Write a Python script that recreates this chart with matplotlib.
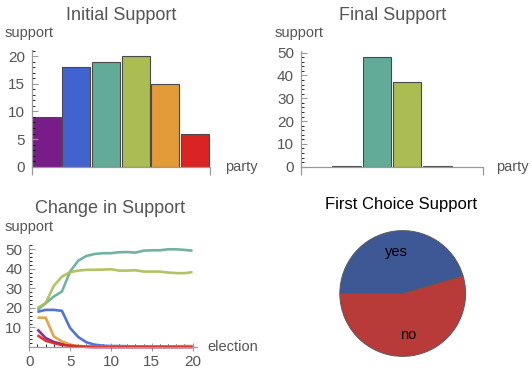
import numpy as np
import matplotlib
matplotlib.use('Agg')
import matplotlib.pyplot as plt
from matplotlib.ticker import MultipleLocator

# data
parties = ['P1', 'P2', 'P3', 'P4', 'P5', 'P6']
colors = ['#781c87', '#4163cf', '#61ab98', '#abbd52', '#e39a38', '#da2424']
initial_support = [9, 18, 19, 20, 15, 6]
final_support = [0, 0.5, 48, 37.3, 0.5, 0]

elections = list(range(1, 21))
purple_line = [9, 4.6, 2.6, 1.5, 0.7, 0.3, 0.1, 0, 0, 0, 0, 0, 0, 0, 0, 0, 0, 0, 0, 0]
blue_line = [18, 19, 19, 18.5, 9.7, 5.1, 2.4, 1.2, 0.7, 0.5, 0.5, 0.4, 0.3, 0.3, 0.2, 0.2, 0.2, 0.2, 0.2, 0.2]
teal_line = [19, 22.4, 25.8, 28.4, 38.6, 44.2, 46.6, 47.6, 48, 48, 48.5, 48.6, 48.3, 49.3, 49.5, 49.5, 50, 50, 49.7, 49.3]
green_line = [20, 22.4, 31.3, 36, 38.3, 39.1, 39.5, 39.5, 39.6, 39.8, 39.1, 39.1, 39.3, 38.6, 38.6, 38.6, 38.1, 37.8, 37.8, 38.3]
orange_line = [15, 15, 5.4, 2.9, 1.2, 0.5, 0.3, 0.3, 0.2, 0.2, 0.2, 0.2, 0.2, 0.2, 0.3, 0.3, 0.3, 0.4, 0.5, 0.5]
red_line = [6, 3.2, 2, 1, 0.7, 0.3, 0.1, 0, 0, 0, 0, 0, 0, 0, 0, 0, 0, 0, 0, 0]
lines = [purple_line, blue_line, teal_line, green_line, orange_line, red_line]

pie_labels = ['yes', 'no']
pie_values = [5, 6]
pie_colors = ['#3d5894', '#b83b3a']

plt.rcParams['font.family'] = ['Liberation Sans', 'DejaVu Sans']
plt.rcParams['font.size'] = 10

W, H = 532, 372
axis_gray = '#9a9a9a'
text_gray = '#555555'

fig = plt.figure(figsize=(W / 100, H / 100), dpi=100)


def rect(x0, y0, x1, y1):
    # pixel box (top-left origin) -> figure fraction rect
    return [x0 / W, 1 - y1 / H, (x1 - x0) / W, (y1 - y0) / H]


def ftext(x, y, s, **kw):
    fig.text(x / W, 1 - y / H, s, **kw)


def style_axes(ax):
    for side in ['top', 'right']:
        ax.spines[side].set_visible(False)
    for side in ['left', 'bottom']:
        ax.spines[side].set_color(axis_gray)
        ax.spines[side].set_linewidth(0.9)
    ax.tick_params(colors=axis_gray, labelcolor=text_gray, labelsize=11)
    ax.tick_params(axis='y', which='major', direction='in', length=4, width=0.8, pad=5)
    ax.tick_params(axis='y', which='minor', direction='in', length=2, width=0.6)
    ax.patch.set_alpha(0)


def bar_panel(rect_px, values, ymax, major, minor, title, title_x, support_x, party_x):
    ax = fig.add_axes(rect(*rect_px))
    x = np.arange(len(values))
    lws = [0.8 if v > 0 else 0 for v in values]
    ax.bar(x, values, width=0.94, color=colors, edgecolor='#4a4a4a', linewidth=lws)
    ax.set_xlim(-0.5, len(values) - 0.5)
    ax.set_ylim(0, ymax)
    style_axes(ax)
    ax.set_xticks([-0.5, len(values) - 0.5])
    ax.set_xticklabels([])
    ax.tick_params(axis='x', direction='out', length=6, width=0.9)
    ax.yaxis.set_major_locator(MultipleLocator(major))
    ax.yaxis.set_minor_locator(MultipleLocator(minor))
    ftext(title_x, 19.5, title, ha='center', va='baseline', fontsize=13, color=text_gray)
    ftext(support_x, 36.5, 'support', ha='left', va='baseline', fontsize=10.5, color=text_gray)
    ftext(party_x, 167, 'party', ha='left', va='center', fontsize=10.5, color=text_gray)
    return ax


bar_panel((31.7, 50, 210, 166.7), initial_support, 21.1, 5, 1,
          'Initial Support', 121, 5, 225)
bar_panel((301, 51.5, 483, 166.7), final_support, 50.5, 10, 2,
          'Final Support', 392.5, 275, 496)

# change in support
ax = fig.add_axes(rect(29.3, 245, 197, 347))
for vals, c in zip(lines, colors):
    ax.plot(elections, vals, color=c, lw=1.9, alpha=0.9, clip_on=False,
            solid_capstyle='butt')
ax.set_xlim(0, 20.55)
ax.set_ylim(0, 52.2)
style_axes(ax)
ax.xaxis.set_major_locator(MultipleLocator(5))
ax.xaxis.set_minor_locator(MultipleLocator(1))
ax.yaxis.set_major_locator(MultipleLocator(10))
ax.yaxis.set_minor_locator(MultipleLocator(2))
ax.set_yticks([10, 20, 30, 40, 50])
ax.tick_params(axis='x', which='major', direction='inout', length=6, width=0.8, pad=3)
ax.tick_params(axis='x', which='minor', direction='in', length=2, width=0.6)
ftext(110.5, 212.5, 'Change in Support', ha='center', va='baseline', fontsize=13, color=text_gray)
ftext(5, 231, 'support', ha='left', va='baseline', fontsize=10.5, color=text_gray)
ftext(207, 347, 'election', ha='left', va='center', fontsize=10.5, color=text_gray)

# first choice pie
cx, cy, r = 402.7, 293.5, 63.5
pax = fig.add_axes(rect(cx - r, cy - r, cx + r, cy + r))
wedges, texts = pax.pie(pie_values, labels=pie_labels, colors=pie_colors,
                        startangle=180, counterclock=False, radius=1,
                        labeldistance=0.66,
                        wedgeprops=dict(edgecolor='#5a5a5a', linewidth=0.7),
                        textprops=dict(fontsize=10.5, color='black'))
for t in texts:
    t.set_ha('center')
    t.set_va('center')
pax.set_xlim(-1.01, 1.01)
pax.set_ylim(-1.01, 1.01)
ftext(401, 208.7, 'First Choice Support', ha='center', va='baseline', fontsize=12, color='black')

fig.savefig('out.png', dpi=100)
